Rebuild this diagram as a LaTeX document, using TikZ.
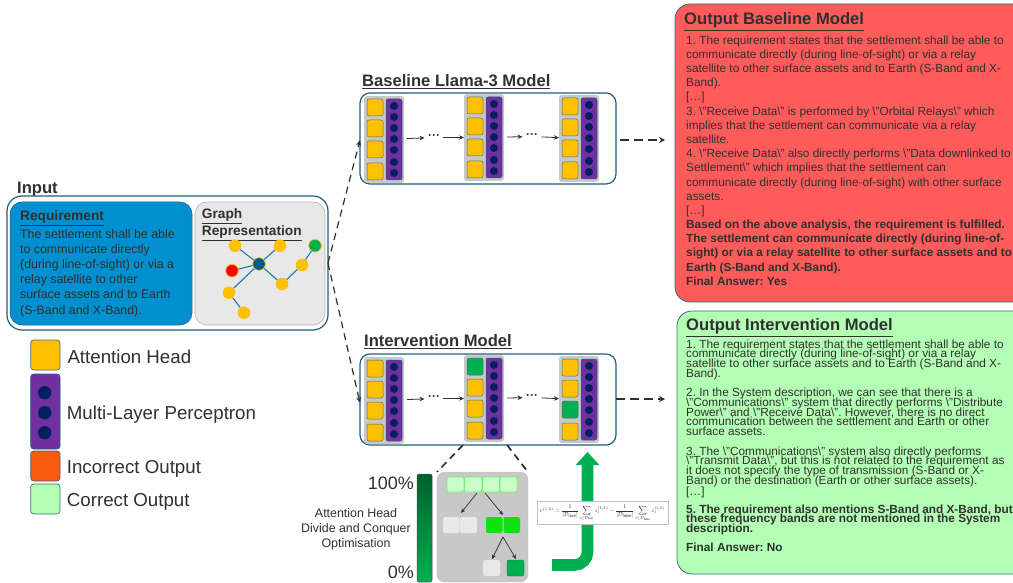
\documentclass[tikz,border=0pt]{standalone}
\usepackage{fontspec}
\usepackage{amsmath}
\setmainfont{Liberation Sans}
\usetikzlibrary{arrows.meta}
\definecolor{ink}{HTML}{303030}
\definecolor{frame}{HTML}{1F5F7F}
\definecolor{headc}{HTML}{FFC000}
\definecolor{mlpc}{HTML}{7030A0}
\definecolor{dotc}{HTML}{002060}
\definecolor{panel}{HTML}{C8C8C8}
\definecolor{goodg}{HTML}{00B050}
\definecolor{lime}{HTML}{10E010}
\definecolor{pale}{HTML}{E8E8E8}
\definecolor{mint}{HTML}{B3FFB3}
\definecolor{redout}{HTML}{FF5B5B}
\definecolor{orng}{HTML}{FA5A10}
\definecolor{reqblue}{HTML}{0090CF}
\definecolor{hub}{HTML}{005A8C}
\definecolor{gedgec}{HTML}{1A7AA8}
\newcommand\tightlines{\lineskiplimit=-100pt\relax}
\tikzset{
  rbx/.style={inner sep=0pt,outer sep=0pt},
  outerbox/.style={rbx,draw=frame,line width=1.2pt,fill=white,rounded corners=10pt},
  headbox/.style={rbx,draw=frame!60!gray,line width=0.5pt,rounded corners=2pt,fill=headc},
  greenhead/.style={headbox,fill=goodg},
  mlpbox/.style={rbx,draw=frame,line width=0.5pt,rounded corners=2pt,fill=mlpc},
  groupbox/.style={rbx,fill=panel,rounded corners=3pt},
  neuron/.style={circle,fill=dotc,inner sep=0pt,minimum size=8pt},
  gnode/.style={circle,fill=headc,inner sep=0pt,minimum size=12.6pt},
  gedge/.style={draw=gedgec,line width=1.1pt},
  flow/.style={draw=ink,line width=0.8pt,-{Stealth[length=5pt,width=4.5pt]}},
  dash1/.style={draw=ink,line width=1.2pt,dash pattern=on 7pt off 5pt,-{Stealth[length=6pt,width=5pt]}},
  dash2/.style={draw=ink,line width=1.7pt,dash pattern=on 9pt off 5pt,-{Stealth[length=6pt,width=6pt]}},
  dash3/.style={draw=ink,line width=1.7pt,dash pattern=on 7pt off 5pt},
  dotsn/.style={inner sep=0pt,outer sep=3.5pt,font=\fontsize{12}{12}\selectfont\bfseries,text=ink},
  tinyarrow/.style={draw=ink,line width=0.7pt,-{Stealth[length=4.5pt,width=4pt]}},
  title/.style={inner sep=0pt,anchor=west,text=ink,font=\fontsize{16.6}{18}\selectfont\bfseries},
  subtitle/.style={inner sep=0pt,anchor=west,text=ink,font=\fontsize{13.7}{17}\selectfont\bfseries,align=left},
  legendt/.style={inner sep=0pt,anchor=west,text=ink,font=\fontsize{18.7}{20}\selectfont},
  bodyr/.style={inner sep=0pt,anchor=north west,text=ink,align=left,font=\fontsize{11.8}{14.18}\selectfont\frenchspacing},
  bodyg/.style={inner sep=0pt,anchor=north west,text=ink,align=left,font=\fontsize{11.8}{9.72}\selectfont\frenchspacing\tightlines},
  lightbox/.style={rbx,draw=lime!40!mint,line width=0.7pt,rounded corners=2pt,fill=mint!70!white},
  palebox/.style={rbx,fill=pale,rounded corners=2pt},
  limebox/.style={rbx,fill=lime,rounded corners=2pt},
  darkbox/.style={rbx,fill=goodg,draw=goodg!70!black,line width=0.4pt,rounded corners=2pt},
  legendbox/.style={rbx,draw=frame!60!gray,line width=0.7pt,rounded corners=3pt}
}
% style, name, x1, y1, x2, y2
\newcommand\rb[6]{\node[#1,minimum width={((#5)-(#3))*1pt},minimum height={((#6)-(#4))*1pt}] (#2) at ({((#3)+(#5))/2},{((#4)+(#6))/2}) {};}
% prefix, x, y, style1..4
\newcommand\blk[7]{%
  \rb{groupbox}{#1g}{#2-3}{#3-3}{#2+37}{#3+84}
  \rb{#4}{#1h1}{#2}{#3}{#2+16}{#3+17}
  \rb{#5}{#1h2}{#2}{#3+21}{#2+16}{#3+38}
  \rb{#6}{#1h3}{#2}{#3+42}{#2+16}{#3+59}
  \rb{#7}{#1h4}{#2}{#3+64}{#2+16}{#3+81}
  \rb{mlpbox}{#1m}{#2+19}{#3}{#2+35}{#3+81}
  \foreach \k/\o in {1/7,2/18,3/29,4/40,5/51,6/63,7/74}{
    \node[neuron] (#1n\k) at ({#2+27},{#3+\o}) {};
  }
}
\newcommand\bq{\textbackslash"}
\newcommand\elide{{[}…{]}}
\begin{document}
\begin{tikzpicture}[x=1pt,y=-1pt]
\useasboundingbox (0,0) rectangle (1013,583);

% input
\node[title] (inputt) at (17,191) {\underline{Input}};
\rb{outerbox,rounded corners=15pt}{input}{7}{196}{328}{330}
\rb{rbx,rounded corners=12pt,draw=frame,line width=0.5pt,fill=reqblue}{req}{10}{202}{192}{325}
\rb{rbx,rounded corners=12pt,draw=gray!60,line width=0.6pt,fill=pale}{graphp}{195}{202}{325}{325}
\node[subtitle] (reqt) at (20,218.7) {\underline{Requirement}};
\node[inner sep=0pt,anchor=north west,text=ink,align=left,font=\fontsize{12.35}{15.2}\selectfont] (reqb) at (20,229) {The settlement shall be able\\to communicate directly\\(during line-of-sight) or via a\\relay satellite to other\\surface assets and to Earth\\(S-Band and X-Band).};
\node[subtitle,anchor=north west] (grt) at (201.7,208) {\underline{Graph}\\\underline{Representation}};

% graph
\node[gnode] (ga) at (235,245.7) {};
\node[gnode] (gb) at (280,245.7) {};
\node[gnode,fill=goodg,draw=headc,line width=0.6pt] (gg) at (315,245.7) {};
\node[gnode] (gy) at (302,265) {};
\node[gnode,fill=hub,draw=headc,line width=0.6pt] (gc) at (259,264) {};
\node[gnode,fill=red,draw=headc,line width=0.6pt] (gr) at (232,270.7) {};
\node[gnode] (gd) at (282,284) {};
\node[gnode] (ge) at (229,292.7) {};
\node[gnode] (gf) at (244,312.7) {};
\draw[gedge] (ga) -- (gc);
\draw[gedge] (gb) -- (gc);
\draw[gedge] (gr) -- (gc);
\draw[gedge] (gd) -- (gc);
\draw[gedge] (ge) -- (gc);
\draw[gedge] (ge) -- (gf);
\draw[gedge] (gd) -- (gy);
\draw[gedge] (gy) -- (gg);

% legend
\rb{legendbox,fill=headc}{lga}{30.7}{340}{60}{370}
\node[legendt] (lta) at (67.3,357.2) {Attention Head};
\rb{legendbox,fill=mlpc,draw=frame}{lgm}{30.7}{374}{60}{449}
\node[neuron,minimum size=13.4pt] (lgm1) at (44.7,392.7) {};
\node[neuron,minimum size=13.4pt] (lgm2) at (44.7,412.7) {};
\node[neuron,minimum size=13.4pt] (lgm3) at (44.7,432.7) {};
\node[legendt] (ltm) at (66.7,414.7) {Multi-Layer Perceptron};
\rb{legendbox,fill=orng}{lgi}{30.7}{451}{60}{481}
\node[legendt] (lti) at (66.7,469) {Incorrect Output};
\rb{legendbox,fill=mint}{lgc}{30.7}{484}{60}{514}
\node[legendt] (ltc) at (66.7,502) {Correct Output};

% models
\node[title] (baset) at (362,82) {\underline{Baseline Llama-3 Model}};
\node[title] (intt) at (364,342) {\underline{Intervention Model}};
\rb{outerbox}{base}{360}{93}{616}{184}
\rb{outerbox}{inter}{360}{354}{616}{445}
\coordinate (outa) at (665,140);
\coordinate (outb) at (665,399);
\coordinate (baseout) at (620,140);
\coordinate (interout) at (616,399);

\blk{ba}{367}{99}{headbox}{headbox}{headbox}{headbox}
\blk{bb}{467}{97}{headbox}{headbox}{headbox}{headbox}
\blk{bc}{562}{98}{headbox}{headbox}{headbox}{headbox}
\blk{ia}{367}{360}{headbox}{headbox}{headbox}{headbox}
\blk{ib}{467}{358}{greenhead}{headbox}{headbox}{headbox}
\blk{ic}{562}{359}{headbox}{headbox}{greenhead}{headbox}

\node[dotsn] (bd1) at (434,137.5) {···};
\node[dotsn] (bd2) at (532,136.5) {···};
\node[dotsn] (id1) at (434,398.5) {···};
\node[dotsn] (id2) at (532,397.5) {···};
\draw[flow,shorten <=3pt] (bag) -- (bd1);
\draw[flow] (bd1) -- (bbg);
\draw[flow,shorten <=3pt] (bbg) -- (bd2);
\draw[flow] (bd2) -- (bcg);
\draw[flow,shorten <=3pt] (iag) -- (id1);
\draw[flow] (id1) -- (ibg);
\draw[flow,shorten <=3pt] (ibg) -- (id2);
\draw[flow] (id2) -- (icg);

% connectors from input
\coordinate (basein) at (360,140);
\coordinate (interin) at (360,403);
\draw[dash1] (input.east) -- (basein);
\draw[dash1] (input.east) -- (interin);
\draw[dash2] (baseout) -- (outa);
\draw[dash2] (interout) -- (outb);

% zoom panel
\rb{rbx,fill=panel,draw=gray!50,line width=0.4pt,rounded corners=8pt}{zoomp}{437}{472}{528}{582}
\coordinate (zl) at (463,445);
\coordinate (zr) at (507,445);
\draw[dash3] (zl) -- (zoomp.north west);
\draw[dash3] (zr) -- (zoomp.north east);
\rb{lightbox}{t1}{447}{477}{464}{492}
\rb{lightbox}{t2}{464.5}{477}{482}{492}
\rb{lightbox}{t3}{482.5}{477}{499.5}{492}
\rb{lightbox}{t4}{500}{477}{517}{492}
\rb{palebox}{m1}{443}{517}{459.5}{533}
\rb{palebox}{m2}{460}{517}{477}{533}
\rb{limebox}{m3}{486}{517}{502.5}{533}
\rb{limebox}{m4}{503.5}{517}{520}{533}
\rb{palebox}{l1}{483}{560}{500}{576}
\rb{darkbox}{l2}{507}{560}{524}{576}
\coordinate (tsplit1) at (477,493);
\coordinate (tsplit2) at (485,493);
\coordinate (mtarget1) at (461,513);
\coordinate (mtarget2) at (503,515);
\coordinate (msplit) at (503,537);
\coordinate (ltarget1) at (492,559);
\coordinate (ltarget2) at (516,559);
\draw[tinyarrow] (tsplit1) -- (mtarget1);
\draw[tinyarrow] (tsplit2) -- (mtarget2);
\draw[tinyarrow] (msplit) -- (ltarget1);
\draw[tinyarrow] (msplit) -- (ltarget2);

% colour bar
\node[rbx,rounded corners=2pt,draw=black!70,line width=0.5pt,top color=goodg!55!black,bottom color=goodg,minimum width=15pt,minimum height=108pt] (bar) at (424.5,528) {};
\node[inner sep=0pt,anchor=east,text=ink,font=\fontsize{18}{20}\selectfont] (p100) at (414,483) {100\%};
\node[inner sep=0pt,anchor=east,text=ink,font=\fontsize{18}{20}\selectfont] (p0) at (414,572) {0\%};
\node[inner sep=0pt,text=ink,align=center,font=\fontsize{12.4}{15}\selectfont] (optt) at (356,529) {Attention Head\\Divide and Conquer\\Optimisation};

% big arrow and formula
\coordinate (gas) at (552,565);
\coordinate (gac) at (587.5,565);
\coordinate (gae) at (587.5,452);
\draw[goodg,line width=11.6pt,rounded corners=13pt,-{Triangle[length=13pt,width=23pt]}] (gas) -- (gac) -- (gae);
\node[rbx,fill=white,draw=gray!50,line width=0.5pt,minimum width=131pt,minimum height=23pt,text=ink] (formula) at (602.5,512.5)
 {\scalebox{0.6}{$v^{(1,k)}=\dfrac{1}{|\mathcal{D}_{\text{true}}|}\displaystyle\sum_{i\in\mathcal{D}_{\text{true}}} z_i^{(1,k)}-\dfrac{1}{|\mathcal{D}_{\text{false}}|}\displaystyle\sum_{i\in\mathcal{D}_{\text{false}}} z_i^{(1,k)}$}};

% outputs
\rb{rbx,fill=redout,draw=frame!70!gray,line width=0.8pt,rounded corners=15pt}{obase}{675}{4}{1030}{302}
\node[title] (obt) at (684,22) {\underline{Output Baseline Model}};
\node[bodyr] (obb) at (686,35.5) {1. The requirement states that the settlement shall be able to\\
communicate directly (during line-of-sight) or via a relay\\
satellite to other surface assets and to Earth (S-Band and X-\\
Band).\\
\elide\\
3. \bq Receive Data\bq\ is performed by \bq Orbital Relays\bq\ which\\
implies that the settlement can communicate via a relay\\
satellite.\\
4. \bq Receive Data\bq\ also directly performs \bq Data downlinked to\\
Settlement\bq\ which implies that the settlement can\\
communicate directly (during line-of-sight) with other surface\\
assets.\\
\elide\\
\textbf{Based on the above analysis, the requirement is fulfilled.}\\
\textbf{The settlement can communicate directly (during line-of-}\\
\textbf{sight) or via a relay satellite to other surface assets and to}\\
\textbf{Earth (S-Band and X-Band).}\\
\textbf{Final Answer: Yes}};

\rb{rbx,fill=mint,draw=frame!70!gray,line width=0.8pt,rounded corners=15pt}{oint}{677}{311}{1030}{574}
\node[title] (oit) at (686,328) {\underline{Output Intervention Model}};
\node[bodyg] (oib) at (686,339.5) {1. The requirement states that the settlement shall be able to\\
communicate directly (during line-of-sight) or via a relay\\
satellite to other surface assets and to Earth (S-Band and X-\\
Band).\\[9.7pt]
2. In the System description, we can see that there is a\\
\bq Communications\bq\ system that directly performs \bq Distribute\\
Power\bq\ and \bq Receive Data\bq . However, there is no direct\\
communication between the settlement and Earth or other\\
surface assets.\\[9.7pt]
3. The \bq Communications\bq\ system also directly performs\\
\bq Transmit Data\bq , but this is not related to the requirement as\\
it does not specify the type of transmission (S-Band or X-\\
Band) or the destination (Earth or other surface assets).\\[1pt]
\elide\\[8.3pt]
\textbf{5. The requirement also mentions S-Band and X-Band, but}\\
\textbf{these frequency bands are not mentioned in the System}\\
\textbf{description.}\\[9.7pt]
\textbf{Final Answer: No}};
\end{tikzpicture}
\end{document}
